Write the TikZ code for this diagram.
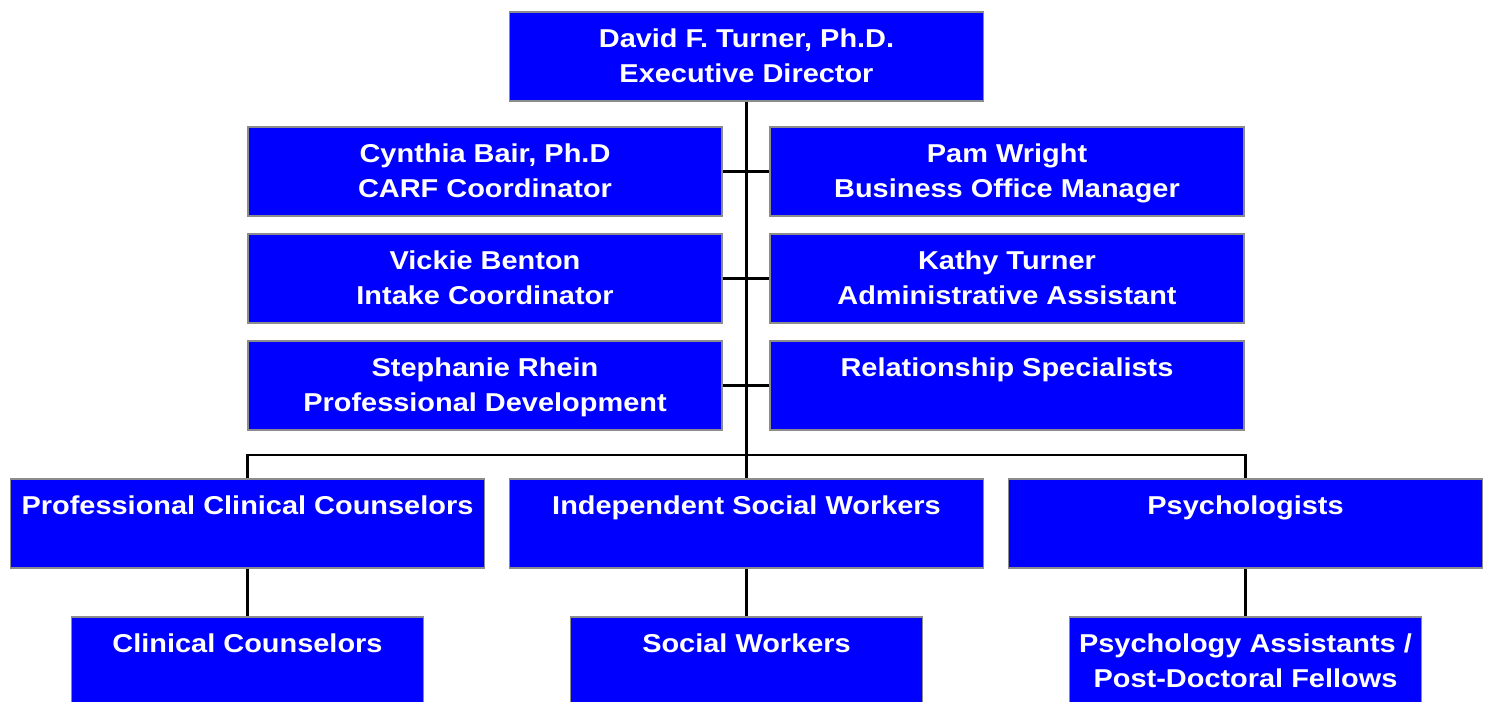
\documentclass[tikz,border=0pt]{standalone}
\usepackage{fontspec}
\setmainfont{Liberation Sans}[FakeStretch=1.12]
\usetikzlibrary{calc}
\newcommand{\vstrut}{\rule[-0.25\baselineskip]{0pt}{\baselineskip}}
\newcommand{\entry}[2]{\vstrut #1\\\vstrut #2}

\begin{document}
\begin{tikzpicture}[line cap=butt, line join=miter,
	font=\bfseries\fontsize{14.7}{19.8}\selectfont,
	unit/.style={draw=gray!90, line width=1pt, fill={rgb,255:red,0;green,0;blue,255},
		text=white, align=center, inner sep=0pt,
		minimum width=9.48cm, minimum height=1.78cm},
	small unit/.style={unit, minimum width=7.04cm},
	link/.style={black, line width=1.2pt}]

\useasboundingbox (0,0) rectangle (29.8,-14.04);

%========================
% Director and staff
%========================
\node[unit] (exec) at (14.93,-1.13) {\entry{David F. Turner, Ph.D.}{Executive Director}};

\node[unit] (carf)    at (9.70,-3.43) {\entry{Cynthia Bair, Ph.D}{CARF Coordinator}};
\node[unit] (intake)  at (9.70,-5.57) {\entry{Vickie Benton}{Intake Coordinator}};
\node[unit] (profdev) at (9.70,-7.71) {\entry{Stephanie Rhein}{Professional Development}};

\node[unit] (office) at (20.14,-3.43) {\entry{Pam Wright}{Business Office Manager}};
\node[unit] (admin)  at (20.14,-5.57) {\entry{Kathy Turner}{Administrative Assistant}};
\node[unit] (rel)    at (20.14,-7.71) {\entry{Relationship Specialists}{}};

%========================
% Licensed groups
%========================
\node[unit] (pcc) at (4.95,-10.47) {\entry{Professional Clinical Counselors}{}};
\node[unit] (isw) at (14.93,-10.47) {\entry{Independent Social Workers}{}};
\node[unit] (psy) at (24.91,-10.47) {\entry{Psychologists}{}};

\node[small unit] (cc) at (4.95,-13.23) {\entry{Clinical Counselors}{}};
\node[small unit] (sw) at (14.93,-13.23) {\entry{Social Workers}{}};
\node[small unit] (pa) at (24.91,-13.23) {\entry{Psychology Assistants /}{Post-Doctoral Fellows}};

% connectors
\coordinate (bus) at (14.93,-9.10);
\draw[link] (exec.south) -- (bus);
\draw[link] (carf.east) -- (office.west);
\draw[link] (intake.east) -- (admin.west);
\draw[link] (profdev.east) -- (rel.west);
\draw[link] (pcc.north) |- (bus) -| (psy.north);
\draw[link] (bus) -- (isw.north);
\draw[link] (pcc.south) -- (cc.north);
\draw[link] (isw.south) -- (sw.north);
\draw[link] (psy.south) -- (pa.north);

\end{tikzpicture}
\end{document}
